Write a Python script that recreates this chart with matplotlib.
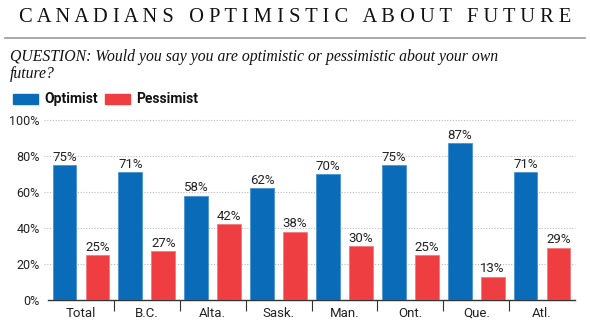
import numpy as np
import matplotlib.pyplot as plt

regions = ['Total', 'B.C.', 'Alta.', 'Sask.', 'Man.', 'Ont.', 'Que.', 'Atl.']
optimist = [75, 71, 58, 62, 70, 75, 87, 71]
pessimist = [25, 27, 42, 38, 30, 25, 13, 29]
yticks = [0, 20, 40, 60, 80, 100]

blue = '#0a6cb8'
red = '#ef3e42'
sans = ['Liberation Sans Narrow', 'Roboto', 'DejaVu Sans']
serif = ['Liberation Serif', 'DejaVu Serif']

fig = plt.figure(figsize=(5.9, 3.24), dpi=100)
ax = fig.add_axes([48 / 590, 1 - 300 / 324, 527 / 590, 180 / 324])

x = np.arange(len(regions))
w = 0.36
ax.bar(x - 0.25, optimist, w, color=blue, edgecolor='#4a93cf', linewidth=0.6, zorder=3)
ax.bar(x + 0.25, pessimist, w, color=red, edgecolor='#f47a7d', linewidth=0.6, zorder=3)

for i in range(len(regions)):
    ax.text(x[i] - 0.25, optimist[i] + 0.8, f'{optimist[i]}%', ha='center', va='bottom',
            fontsize=9.5, family=sans, color='#222222', zorder=4)
    ax.text(x[i] + 0.25, pessimist[i] + 0.8, f'{pessimist[i]}%', ha='center', va='bottom',
            fontsize=9.5, family=sans, color='#222222', zorder=4)

ax.set_xlim(-0.5, len(regions) - 0.5)
ax.set_ylim(0, 100)
ax.set_yticks(yticks)
ax.set_yticklabels([f'{t}%' for t in yticks], family=sans, fontsize=9, color='#222222')
ax.tick_params(axis='y', length=0, pad=6)
for t in yticks[1:]:
    ax.axhline(t, xmin=-0.008, color='#bbbbbb', linestyle=(0, (1, 1.5)), linewidth=0.8, zorder=1, clip_on=False)

ax.set_xticks(x)
ax.set_xticklabels(regions, family=sans, fontsize=9.5, color='#222222')
ax.tick_params(axis='x', length=0, pad=5)
ax.set_xticks(np.arange(0.5, len(regions) - 1, 1), minor=True)
ax.tick_params(axis='x', which='minor', length=8, width=0.8, color='#333333', direction='out')

for s in ['top', 'right', 'left']:
    ax.spines[s].set_visible(False)
ax.spines['bottom'].set_color('#333333')
ax.spines['bottom'].set_linewidth(1.0)

# header
title = '   '.join(' '.join(wd) for wd in 'CANADIANS OPTIMISTIC ABOUT FUTURE'.split())
fig.text(0.5, 1 - 18 / 324, title, ha='center', va='center', family=serif, fontsize=14.8, color='#111111')
fig.add_artist(plt.Line2D([5 / 590, 585 / 590], [1 - 38 / 324, 1 - 38 / 324], color='#999999', linewidth=1.2))
fig.text(10 / 590, 1 - 57 / 324, 'QUESTION: Would you say you are optimistic or pessimistic about your own',
         ha='left', va='center', family=serif, style='italic', fontsize=11.3, color='#111111')
fig.text(10 / 590, 1 - 74 / 324, 'future?', ha='left', va='center', family=serif, style='italic',
         fontsize=11.3, color='#111111')

# legend
fig.add_artist(plt.Rectangle((13 / 590, 1 - 104 / 324), 25 / 590, 10 / 324, color=blue))
fig.text(44 / 590, 1 - 99 / 324, 'Optimist', ha='left', va='center', family=sans, fontsize=10,
         weight='bold', color='#111111')
fig.add_artist(plt.Rectangle((105 / 590, 1 - 104 / 324), 25 / 590, 10 / 324, color=red))
fig.text(136 / 590, 1 - 99 / 324, 'Pessimist', ha='left', va='center', family=sans, fontsize=10,
         weight='bold', color='#111111')

fig.savefig('out.png', dpi=100)
